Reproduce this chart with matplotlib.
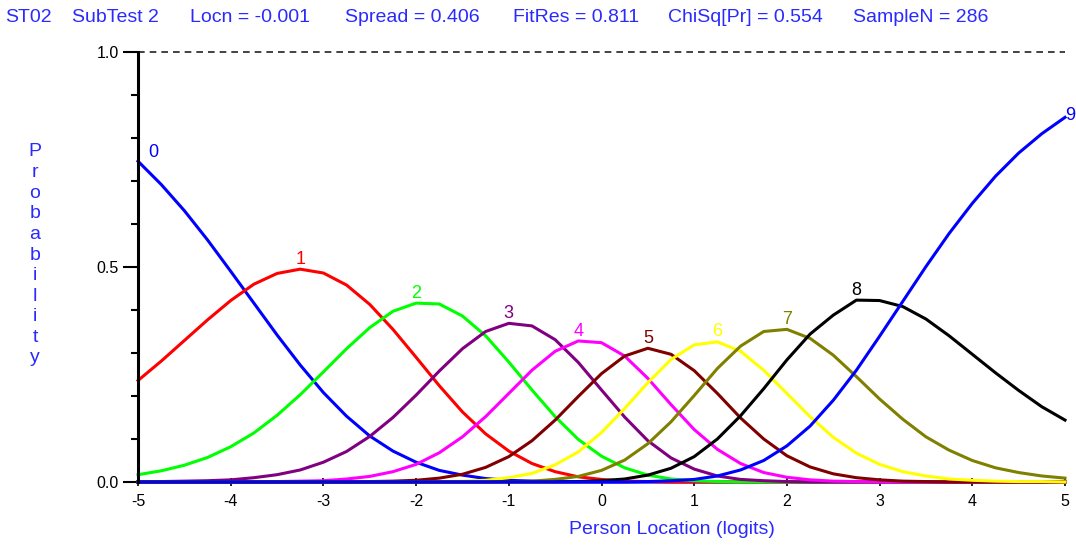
import numpy as np
import matplotlib
matplotlib.use("Agg")
import matplotlib.pyplot as plt

plt.rcParams['font.family'] = ['Liberation Sans', 'DejaVu Sans']
plt.rcParams['axes.unicode_minus'] = False

# person location (logits), sampled every 0.25
loc = [-5.0, -4.75, -4.5, -4.25, -4.0, -3.75, -3.5, -3.25, -3.0, -2.75,
       -2.5, -2.25, -2.0, -1.75, -1.5, -1.25, -1.0, -0.75, -0.5, -0.25,
       0.0, 0.25, 0.5, 0.75, 1.0, 1.25, 1.5, 1.75, 2.0, 2.25,
       2.5, 2.75, 3.0, 3.25, 3.5, 3.75, 4.0, 4.25, 4.5, 4.75, 5.0]

# category probability curves
cat0 = [0.746, 0.692, 0.631, 0.563, 0.490, 0.416, 0.342, 0.272, 0.208, 0.153,
        0.107, 0.072, 0.046, 0.027, 0.016, 0.008, 0.004, 0.002, 0.001, 0, 0,
        0, 0, 0, 0, 0, 0, 0, 0, 0, 0, 0, 0, 0, 0, 0, 0, 0, 0, 0, 0]
cat1 = [0.236, 0.281, 0.329, 0.377, 0.422, 0.460, 0.485, 0.495, 0.486, 0.458,
        0.413, 0.355, 0.290, 0.224, 0.163, 0.112, 0.072, 0.043, 0.024, 0.012,
        0.006, 0.002, 0.001, 0, 0, 0, 0, 0, 0, 0, 0, 0, 0, 0, 0, 0, 0, 0, 0, 0, 0]
cat2 = [0.017, 0.026, 0.039, 0.057, 0.082, 0.114, 0.155, 0.203, 0.256, 0.310,
        0.359, 0.397, 0.416, 0.414, 0.386, 0.340, 0.279, 0.214, 0.152, 0.099,
        0.060, 0.033, 0.016, 0.007, 0.003, 0.001, 0, 0, 0, 0, 0, 0, 0, 0, 0,
        0, 0, 0, 0, 0, 0]
cat3 = [0, 0.001, 0.002, 0.003, 0.005, 0.010, 0.017, 0.028, 0.046, 0.071,
        0.106, 0.150, 0.202, 0.258, 0.310, 0.350, 0.369, 0.363, 0.331, 0.278,
        0.214, 0.151, 0.096, 0.056, 0.030, 0.014, 0.006, 0.003, 0.001, 0, 0,
        0, 0, 0, 0, 0, 0, 0, 0, 0, 0]
cat4 = [0, 0, 0, 0, 0, 0, 0.001, 0.002, 0.003, 0.007,
        0.013, 0.024, 0.041, 0.068, 0.105, 0.152, 0.206, 0.260, 0.304, 0.328,
        0.324, 0.293, 0.241, 0.180, 0.122, 0.076, 0.043, 0.022, 0.011, 0.005,
        0.002, 0.001, 0, 0, 0, 0, 0, 0, 0, 0, 0]
cat5 = [0, 0, 0, 0, 0, 0, 0, 0, 0, 0,
        0.001, 0.002, 0.004, 0.009, 0.018, 0.034, 0.059, 0.096, 0.144, 0.199,
        0.252, 0.293, 0.311, 0.297, 0.259, 0.206, 0.149, 0.100, 0.061, 0.035,
        0.019, 0.010, 0.005, 0.002, 0.001, 0, 0, 0, 0, 0, 0]
cat6 = [0, 0, 0, 0, 0, 0, 0, 0, 0, 0,
        0, 0, 0, 0.001, 0.002, 0.004, 0.010, 0.020, 0.040, 0.070,
        0.115, 0.171, 0.231, 0.285, 0.319, 0.326, 0.304, 0.260, 0.206, 0.152,
        0.104, 0.067, 0.041, 0.024, 0.014, 0.007, 0.004, 0.002, 0.001, 0.001, 0]
cat7 = [0, 0, 0, 0, 0, 0, 0, 0, 0, 0,
        0, 0, 0, 0, 0, 0, 0.001, 0.002, 0.006, 0.013,
        0.027, 0.051, 0.089, 0.140, 0.201, 0.264, 0.316, 0.350, 0.355, 0.334,
        0.295, 0.245, 0.193, 0.146, 0.105, 0.074, 0.050, 0.033, 0.022, 0.014, 0.009]
cat8 = [0, 0, 0, 0, 0, 0, 0, 0, 0, 0,
        0, 0, 0, 0, 0, 0, 0, 0, 0, 0.001,
        0.003, 0.007, 0.016, 0.032, 0.059, 0.100, 0.154, 0.217, 0.284, 0.344,
        0.388, 0.423, 0.422, 0.408, 0.379, 0.340, 0.297, 0.254, 0.213, 0.175, 0.144]
cat9 = [0, 0, 0, 0, 0, 0, 0, 0, 0, 0,
        0, 0, 0, 0, 0, 0, 0, 0, 0, 0,
        0, 0, 0.001, 0.003, 0.006, 0.014, 0.028, 0.050, 0.084, 0.130,
        0.190, 0.260, 0.339, 0.420, 0.501, 0.578, 0.648, 0.711, 0.765, 0.810, 0.848]

curves = [cat0, cat1, cat2, cat3, cat4, cat5, cat6, cat7, cat8, cat9]
colours = ['#0000ff', '#ff0000', '#00ff00', '#800080', '#ff00ff',
           '#800000', '#ffff00', '#808000', '#000000', '#0000ff']

header = [(5, 'ST02'), (72, 'SubTest 2'), (190, 'Locn = -0.001'),
          (345, 'Spread = 0.406'), (513, 'FitRes = 0.811'),
          (668, 'ChiSq[Pr] = 0.554'), (853, 'SampleN = 286')]

W, H = 1076, 545
fig = plt.figure(figsize=(W / 100, H / 100), dpi=100)
ax = fig.add_axes([138 / W, (H - 482) / H, 927 / W, 430 / H])

for i, c in enumerate(curves):
    ax.plot(loc, c, color=colours[i], lw=2.2, clip_on=False, zorder=3)

# dashed line at probability 1
ax.plot([loc[0], loc[-1]], [1, 1], color='#222222', lw=1.2, ls=(0, (4, 3)), clip_on=False)

ax.set_xlim(-5, 5)
ax.set_ylim(0, 1)
for s in ['top', 'right']:
    ax.spines[s].set_visible(False)
ax.spines['left'].set_linewidth(2.2)
ax.spines['left'].set_zorder(4)
ax.set_xticks(range(-5, 6))
ax.set_yticks([0, 0.5, 1.0])
ax.set_yticklabels(['0.0', '0.5', '1.0'])
ax.set_yticks(np.arange(0, 1.01, 0.1), minor=True)
ax.tick_params(axis='y', which='major', length=11, width=1.5, labelsize=11.5, pad=3)
ax.tick_params(axis='y', which='minor', length=5, width=1.5)
ax.tick_params(axis='x', direction='inout', length=6, width=1.2, labelsize=11.5, pad=6)

blue = '#2a2aff'
for px, t in header:
    fig.text(px / W, 1 - 17 / H, t, color=blue, fontsize=14, va='center', ha='left')
for j, ch in enumerate('Probability'):
    fig.text(35 / W, 1 - (152 + j * 20.6) / H, ch, color=blue, fontsize=14, va='center', ha='center')
fig.text(672 / W, 1 - 529 / H, 'Person Location (logits)', color=blue, fontsize=14,
         va='center', ha='center')

# category numbers at each curve's highest point
for i, c in enumerate(curves):
    j = int(np.argmax(c))
    if i == 0:
        off, ha, va = (11, 6), 'center', 'center'
    elif i == len(curves) - 1:
        off, ha, va = (0, 1.5), 'left', 'center'
    else:
        off, ha, va = (0, 1), 'center', 'bottom'
    ax.annotate(str(i), (loc[j], c[j]), xytext=off, textcoords='offset points',
                color=colours[i], fontsize=13, ha=ha, va=va, annotation_clip=False)

fig.savefig('out.png')
